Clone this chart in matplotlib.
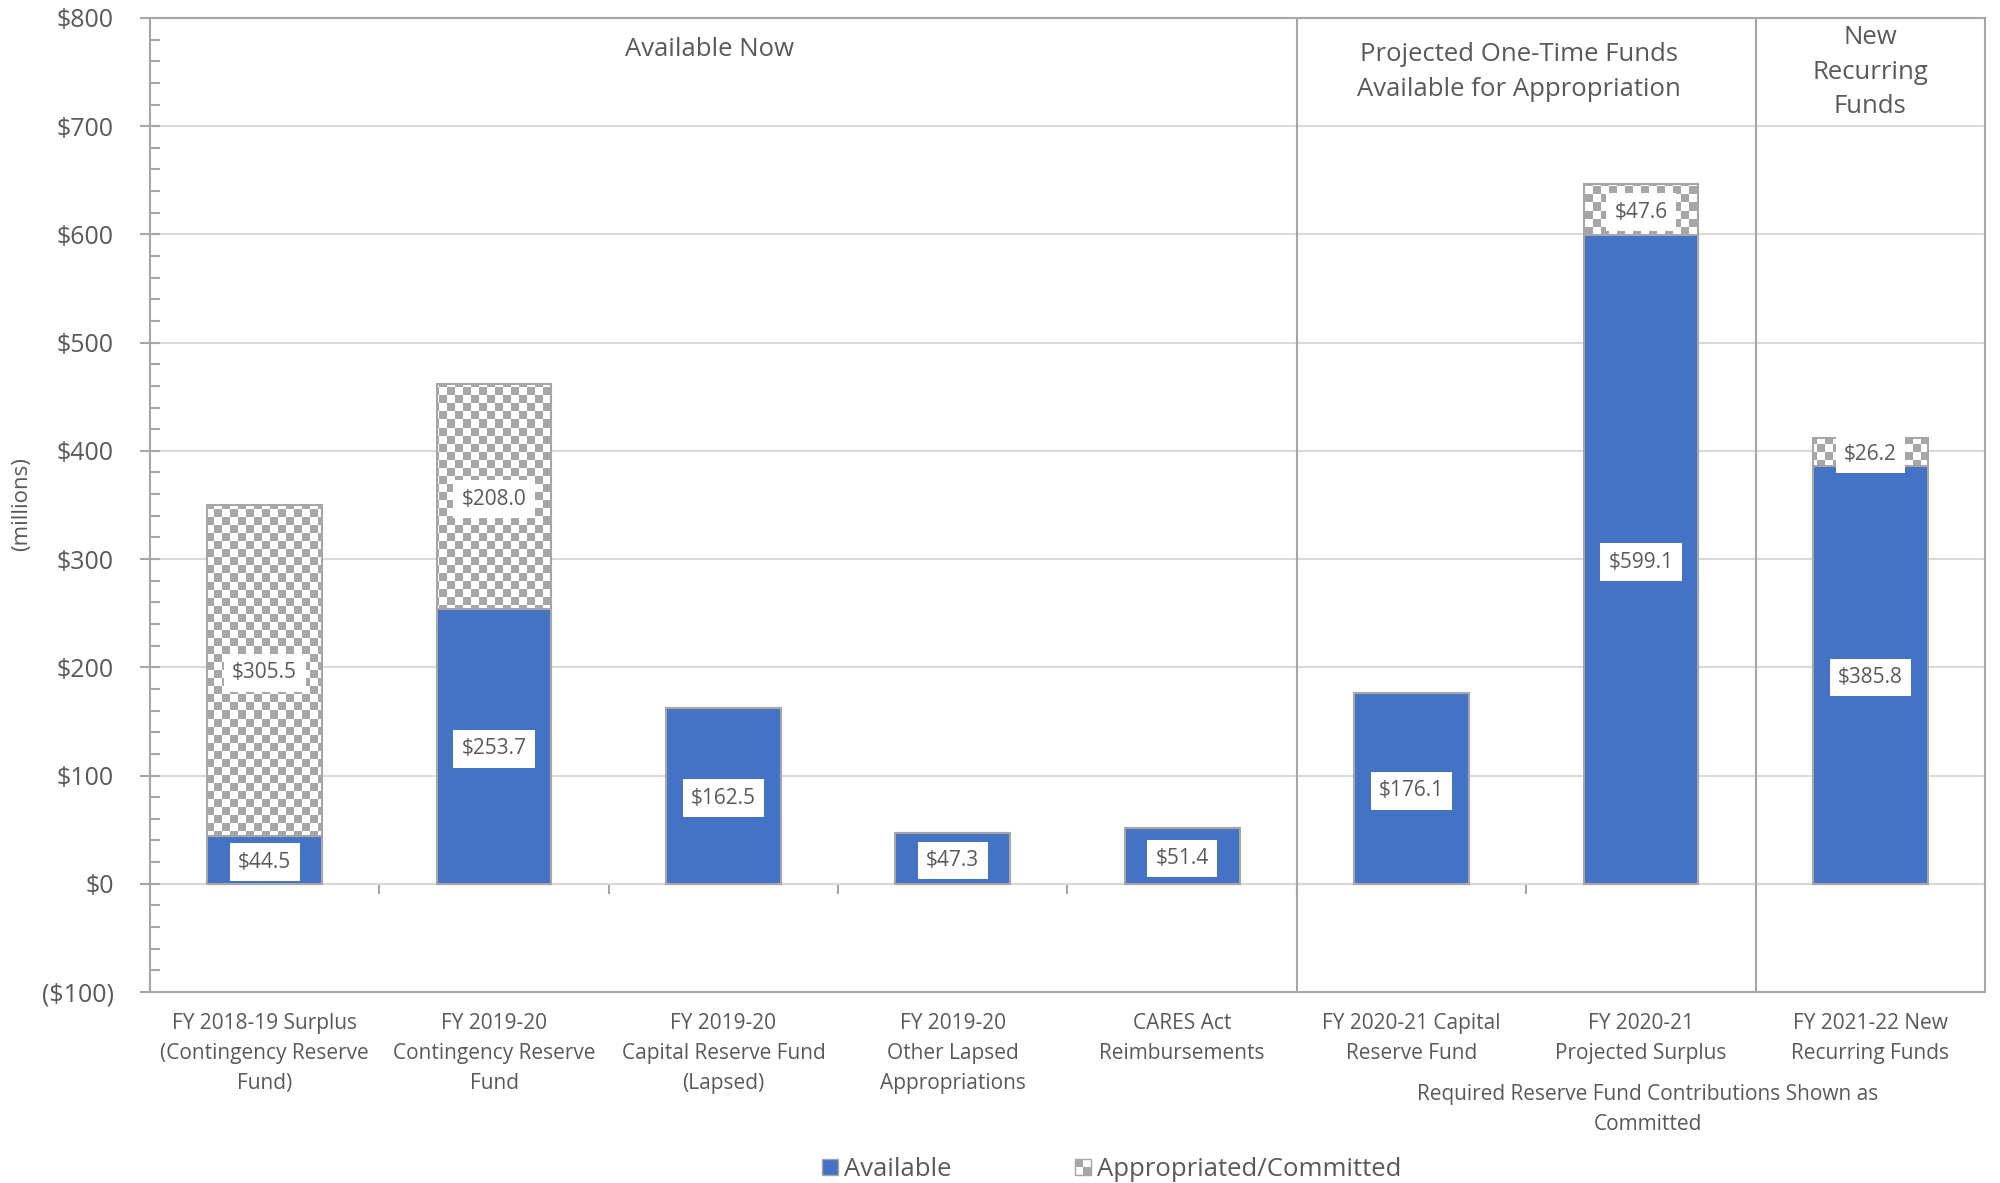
"""Stacked bars of available vs appropriated funds."""
import matplotlib.pyplot as plt
import numpy as np
from matplotlib.colors import ListedColormap
from matplotlib.legend_handler import HandlerBase
from matplotlib.patches import Patch, Rectangle
from matplotlib.ticker import MultipleLocator
from matplotlib.transforms import blended_transform_factory

categories = [
    'FY 2018-19 Surplus\n(Contingency Reserve\nFund)',
    'FY 2019-20\nContingency Reserve\nFund',
    'FY 2019-20\nCapital Reserve Fund\n(Lapsed)',
    'FY 2019-20\nOther Lapsed\nAppropriations',
    'CARES Act\nReimbursements',
    'FY 2020-21 Capital\nReserve Fund',
    'FY 2020-21\nProjected Surplus',
    'FY 2021-22 New\nRecurring Funds',
]
available = [44.5, 253.7, 162.5, 47.3, 51.4, 176.1, 599.1, 385.8]
committed = [305.5, 208.0, 0, 0, 0, 0, 47.6, 26.2]

y_ticks = [-100, 0, 100, 200, 300, 400, 500, 600, 700, 800]
y_tick_labels = ['($100)', '$0', '$100', '$200', '$300', '$400',
                 '$500', '$600', '$700', '$800']

groups = ['Available Now',
          'Projected One-Time Funds\nAvailable for Appropriation',
          'New\nRecurring\nFunds']
group_x = [1.94, 5.47, 7.0]
group_y = [771, 750, 750]
dividers = [4.5, 6.5]
note = 'Required Reserve Fund Contributions Shown as\nCommitted'

BLUE = '#4472C4'
GRAY = '#A6A6A6'
GRID = '#D9D9D9'
TEXT = '#595959'

plt.rcParams['font.family'] = ['Open Sans', 'DejaVu Sans']

fig = plt.figure(figsize=(20, 11.83), dpi=100)
ax = fig.add_axes([0.075, 0.1615, 0.9175, 0.8233])

# Stacked bars
x = np.arange(len(categories))
ax.bar(x, available, 0.5, color=BLUE, edgecolor=GRAY, linewidth=1.5, zorder=3)
top_bars = ax.bar(x, committed, 0.5, bottom=available, facecolor='none',
                  edgecolor=GRAY, linewidth=1.5, zorder=4)

# Checkerboard fill for appropriated part, clipped to each bar
cell = 8
nx = int(2000 * 0.9175 / cell)
ny = int(1183 * 0.8233 / cell)
checker = np.add.outer(np.arange(ny), np.arange(nx)) % 2
checker_cmap = ListedColormap(['white', GRAY])
for bar, value in zip(top_bars, committed):
    if value > 0:
        im = ax.imshow(checker, cmap=checker_cmap, extent=(0, 1, 0, 1),
                       transform=ax.transAxes, aspect='auto',
                       interpolation='nearest', zorder=3.5)
        im.set_clip_path(bar)

# Value labels
box = dict(boxstyle='square,pad=0.4', fc='white', ec='none')
for xi, a, c in zip(x, available, committed):
    ax.text(xi, a / 2, f'${a:.1f}', ha='center', va='center_baseline',
            fontsize=15, color=TEXT, bbox=box, zorder=6)
    if c > 0:
        ax.text(xi, a + c / 2, f'${c:.1f}', ha='center', va='center_baseline',
                fontsize=15, color=TEXT, bbox=box, zorder=6)

# Axes
ax.set_xlim(-0.5, len(categories) - 0.5)
ax.set_ylim(y_ticks[0], y_ticks[-1])
ax.set_yticks(y_ticks)
ax.set_yticklabels(y_tick_labels, fontsize=18, color=TEXT)
ax.yaxis.set_minor_locator(MultipleLocator(20))
ax.tick_params(axis='y', which='major', direction='inout', length=14,
               width=1.5, color=GRAY, pad=19)
ax.tick_params(axis='y', which='minor', direction='in', length=7,
               width=1.5, color=GRAY)
ax.set_xticks(x)
ax.set_xticklabels(categories, fontsize=15, color=TEXT, linespacing=1.56)
ax.tick_params(axis='x', length=0, pad=15)
ax.grid(axis='y', color=GRID, linewidth=1.5)
ax.set_axisbelow(True)
for spine in ax.spines.values():
    spine.set_color(GRAY)
    spine.set_linewidth(1.5)

# Zero line with category separators
zero_loc = (0 - y_ticks[0]) / (y_ticks[-1] - y_ticks[0])
zero_axis = ax.secondary_xaxis(zero_loc)
zero_axis.set_xticks(x[:-1] + 0.5)
zero_axis.set_xticklabels([])
zero_axis.tick_params(direction='out', length=7, width=1.5, color=GRAY)
zero_axis.spines['bottom'].set_color(GRAY)
zero_axis.spines['bottom'].set_linewidth(1.5)

for d in dividers:
    ax.axvline(d, color=GRAY, linewidth=1.5, zorder=2)

for g, gx, gy in zip(groups, group_x, group_y):
    ax.text(gx, gy, g, ha='center', va='center', fontsize=18.5,
            color=TEXT, linespacing=1.5)

trans = blended_transform_factory(ax.transData, fig.transFigure)
ax.text(6.03, 0.0620, note, transform=trans, ha='center', va='center',
        fontsize=15, color=TEXT, linespacing=1.6)

fig.text(0.011, 0.574, '(millions)', rotation=90, ha='center', va='center',
         fontsize=16, color=TEXT)


# Legend
class CheckerHandler(HandlerBase):
    def create_artists(self, legend, orig_handle, xdescent, ydescent,
                       width, height, fontsize, trans):
        s = min(width, height)
        x0 = -xdescent + (width - s) / 2
        y0 = -ydescent + (height - s) / 2
        h = s / 2
        return [
            Rectangle((x0, y0), s, s, fc='white', ec=GRAY, lw=1, transform=trans),
            Rectangle((x0, y0 + h), h, h, fc=GRAY, ec='none', transform=trans),
            Rectangle((x0 + h, y0), h, h, fc=GRAY, ec='none', transform=trans),
        ]


avail_handle = Patch(facecolor=BLUE, edgecolor=GRAY, linewidth=1)
comm_handle = Patch(facecolor='white', edgecolor=GRAY)
leg = fig.legend([avail_handle, comm_handle],
                 ['Available', 'Appropriated/Committed'],
                 handler_map={comm_handle: CheckerHandler()},
                 loc='center', bbox_to_anchor=(0.5558, 0.0115), ncol=2,
                 frameon=False, fontsize=18.5, handlelength=0.62,
                 handleheight=0.62, handletextpad=0.25, columnspacing=4.8,
                 borderpad=0.1)
for t in leg.get_texts():
    t.set_color(TEXT)

fig.savefig('out.png', dpi=100)
